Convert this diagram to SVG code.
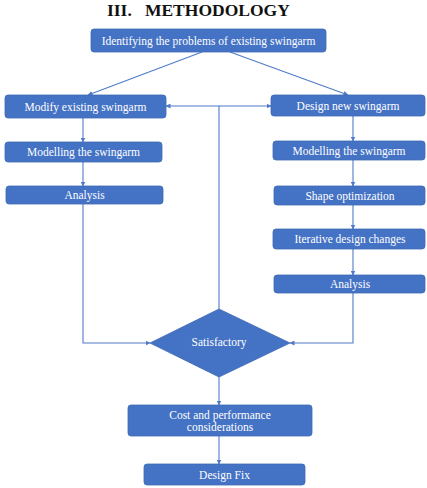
<svg xmlns="http://www.w3.org/2000/svg" width="427" height="488" viewBox="0 0 427 488">
<style>
.box{fill:#4472C4;stroke:#3F69B5;stroke-width:0.8}
.t{fill:#ffffff;font-family:"Liberation Serif","Times New Roman",serif;font-size:11.5px;text-anchor:middle}
.c{fill:none;stroke:#4F7BC8;stroke-width:1.1}
.title{fill:#111;font-family:"Liberation Serif","Times New Roman",serif;font-size:17.5px;font-weight:bold}
</style>
<defs>
<marker id="ah" viewBox="0 0 10 10" refX="9" refY="5" markerWidth="5" markerHeight="5" orient="auto" markerUnits="userSpaceOnUse">
<path d="M0,0 L10,5 L0,10 z" fill="#4F7BC8"/>
</marker>
</defs>
<rect width="427" height="488" fill="#ffffff"/>
<text class="title" x="107" y="16" xml:space="preserve">III.   METHODOLOGY</text>
<g id="connectors">
<path class="c" d="M202,52 L88,95" marker-end="url(#ah)"/>
<path class="c" d="M230,52 L348,95" marker-end="url(#ah)"/>
<path class="c" d="M83,118 V142" marker-end="url(#ah)"/>
<path class="c" d="M83,162 V186" marker-end="url(#ah)"/>
<path class="c" d="M83,204 V343 H150" marker-end="url(#ah)"/>
<path class="c" d="M353,116 V141" marker-end="url(#ah)"/>
<path class="c" d="M353,160 V186" marker-end="url(#ah)"/>
<path class="c" d="M353,205 V229" marker-end="url(#ah)"/>
<path class="c" d="M353,249 V275" marker-end="url(#ah)"/>
<path class="c" d="M353,293 V343 H290" marker-end="url(#ah)"/>
<path class="c" d="M219,309 V106 H166" marker-end="url(#ah)"/>
<path class="c" d="M219,106 H271" marker-end="url(#ah)"/>
<path class="c" d="M219,377 V405" marker-end="url(#ah)"/>
<path class="c" d="M219,436 V464" marker-end="url(#ah)"/>
</g>
<g id="identify"><rect class="box" x="91" y="29" width="235" height="23" rx="3"/><text class="t" x="208.5" y="44.5">Identifying the problems of existing swingarm</text></g>
<g id="modify"><rect class="box" x="5" y="95" width="161" height="23" rx="3"/><text class="t" x="85.5" y="110.5">Modify existing swingarm</text></g>
<g id="modelL"><rect class="box" x="5" y="142" width="157" height="20" rx="3"/><text class="t" x="83.5" y="156">Modelling the swingarm</text></g>
<g id="analysisL"><rect class="box" x="6" y="186" width="157" height="18" rx="3"/><text class="t" x="84.5" y="199">Analysis</text></g>
<g id="design"><rect class="box" x="271" y="95" width="154" height="21" rx="3"/><text class="t" x="348" y="109.5">Design new swingarm</text></g>
<g id="modelR"><rect class="box" x="273" y="141" width="152" height="19" rx="3"/><text class="t" x="349" y="154.5">Modelling the swingarm</text></g>
<g id="shape"><rect class="box" x="274" y="186" width="151" height="19" rx="3"/><text class="t" x="350" y="199.5">Shape optimization</text></g>
<g id="iterative"><rect class="box" x="273" y="229" width="152" height="20" rx="3"/><text class="t" x="350" y="243">Iterative design changes</text></g>
<g id="analysisR"><rect class="box" x="274" y="275" width="151" height="18" rx="3"/><text class="t" x="350" y="288">Analysis</text></g>
<g id="satisfactory"><polygon class="box" points="150,343 219,309 290,343 219,377"/><text class="t" x="219" y="346">Satisfactory</text></g>
<g id="cost"><rect class="box" x="128" y="405" width="184" height="31" rx="3"/><text class="t" x="220" y="419">Cost and performance</text><text class="t" x="220" y="431">considerations</text></g>
<g id="fix"><rect class="box" x="144" y="464" width="161" height="21" rx="3"/><text class="t" x="224.5" y="478.5">Design Fix</text></g>
</svg>
